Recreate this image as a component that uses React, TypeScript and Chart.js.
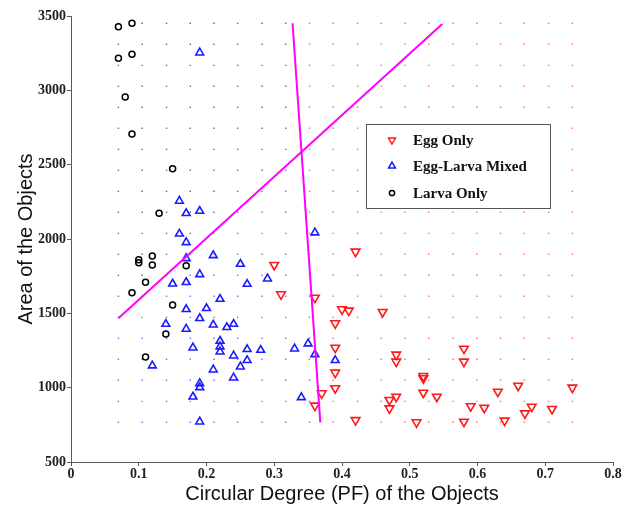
import React, { useEffect, useRef } from 'react';
import { Chart, registerables } from 'chart.js';
import { drawPoint } from 'chart.js/helpers';

Chart.register(...registerables);

// ---- Data ----
const eggX = [0.30, 0.31, 0.36, 0.40, 0.41, 0.46, 0.39, 0.42, 0.39, 0.39, 0.39, 0.37, 0.36, 0.48, 0.48, 0.58, 0.58, 0.52, 0.52, 0.52, 0.54, 0.47, 0.48, 0.47, 0.63, 0.66, 0.74, 0.59, 0.61, 0.68, 0.71, 0.67, 0.42, 0.51, 0.58, 0.64];
const eggY = [1825, 1628, 1605, 1527, 1518, 1509, 1433, 1915, 1269, 1101, 996, 962, 879, 1222, 1175, 1262, 1175, 1078, 1063, 966, 939, 917, 939, 861, 973, 1013, 1000, 875, 865, 872, 857, 827, 782, 767, 771, 778];

const mixedX = [0.19, 0.16, 0.17, 0.19, 0.16, 0.17, 0.36, 0.21, 0.17, 0.25, 0.19, 0.15, 0.17, 0.26, 0.29, 0.22, 0.20, 0.17, 0.14, 0.19, 0.17, 0.21, 0.23, 0.24, 0.18, 0.22, 0.22, 0.22, 0.26, 0.28, 0.33, 0.35, 0.36, 0.24, 0.26, 0.25, 0.12, 0.21, 0.24, 0.19, 0.19, 0.18, 0.34, 0.19, 0.39];
const mixedY = [3253, 2256, 2173, 2188, 2035, 1977, 2043, 1890, 1870, 1832, 1762, 1699, 1709, 1697, 1733, 1596, 1534, 1527, 1428, 1467, 1395, 1423, 1406, 1428, 1269, 1314, 1276, 1242, 1258, 1253, 1262, 1296, 1224, 1215, 1184, 1141, 1148, 1121, 1067, 1029, 1002, 939, 935, 771, 1184];

const larvaX = [0.07, 0.09, 0.07, 0.09, 0.08, 0.09, 0.15, 0.13, 0.10, 0.10, 0.12, 0.12, 0.17, 0.09, 0.11, 0.15, 0.14, 0.11];
const larvaY = [3428, 3451, 3215, 3242, 2955, 2706, 2473, 2173, 1860, 1840, 1885, 1825, 1820, 1639, 1709, 1556, 1361, 1206];

// decision boundaries
const boundary1X = [0.07, 0.548];
const boundary1Y = [1467, 3446];
const boundary2X = [0.327, 0.368];
const boundary2Y = [3451, 767];

// classification mesh (L = larva, M = mixed, E = egg), rows bottom -> top
const gridX = [0.070, 0.105, 0.141, 0.176, 0.211, 0.246, 0.282, 0.317, 0.352, 0.387, 0.423, 0.458, 0.493, 0.528, 0.564, 0.599, 0.634, 0.669, 0.705, 0.740];
const gridY = [767, 908, 1050, 1191, 1332, 1473, 1615, 1756, 1897, 2038, 2180, 2321, 2462, 2603, 2745, 2886, 3027, 3168, 3310, 3451];
const gridClass = [
  'MMMMMMMMMEEEEEEEEEEE',
  'MMMMMMMMMEEEEEEEEEEE',
  'MMMMMMMMMEEEEEEEEEEE',
  'MMMMMMMMMEEEEEEEEEEE',
  'MMMMMMMMMEEEEEEEEEEE',
  'LMMMMMMMMEEEEEEEEEEE',
  'LLMMMMMMMEEEEEEEEEEE',
  'LLMMMMMMMEEEEEEEEEEE',
  'LLLMMMMMEEEEEEEEEEEE',
  'LLLLMMMMEEEEEEEEEEEE',
  'LLLLLMMMEEEEEEEEEEEE',
  'LLLLLLMMEEEEEEEEEEEE',
  'LLLLLLLMEEEEEEEEEEEE',
  'LLLLLLLLEEEEEEEEEEEE',
  'LLLLLLLLEEEEEEEEEEEE',
  'LLLLLLLLEEEEEEEEEEEE',
  'LLLLLLLLEEEEEEEEEEEE',
  'LLLLLLLLEEEEEEEEEEEE',
  'LLLLLLLLEEEEEEEEEEEE',
  'LLLLLLLLEEEEEEEEEEEE',
];

const xTickValues = [0, 0.1, 0.2, 0.3, 0.4, 0.5, 0.6, 0.7, 0.8];
const xTickLabels = ['0', '0.1', '0.2', '0.3', '0.4', '0.5', '0.6', '0.7', '0.8'];
const yTickValues = [500, 1000, 1500, 2000, 2500, 3000, 3500];
const yTickLabels = ['500', '1000', '1500', '2000', '2500', '3000', '3500'];

const legendLabels = ['Egg Only', 'Egg-Larva Mixed', 'Larva Only'];
const xTitle = 'Circular Degree (PF) of the Objects';
const yTitle = 'Area of the Objects';

// ---- Styles ----
const EGG = '#ff1a1a';
const MIXED = '#1a1aff';
const LARVA = '#000000';
const LINE = '#ff00ff';
const gridColors: Record<string, string> = { L: '#6e6e6e', M: '#7070ff', E: '#ff7070' };

const pts = (xs: number[], ys: number[]) => xs.map((x, i) => ({ x, y: ys[i] }));

function meshPoints(cls: string) {
  const out: { x: number; y: number }[] = [];
  gridClass.forEach((row, j) => {
    for (let i = 0; i < row.length; i++) {
      if (row[i] === cls) out.push({ x: gridX[i], y: gridY[j] });
    }
  });
  return out;
}

const legendPlugin = {
  id: 'boxLegend',
  afterDraw(chart: any) {
    const ctx = chart.ctx as CanvasRenderingContext2D;
    const x0 = 366.5, y0 = 124.5, w = 184, h = 84;
    ctx.save();
    ctx.fillStyle = '#ffffff';
    ctx.fillRect(x0, y0, w, h);
    ctx.strokeStyle = '#555555';
    ctx.lineWidth = 1;
    ctx.strokeRect(x0, y0, w, h);
    const items = [
      { color: EGG, style: 'triangle', rotation: 180, radius: 4 },
      { color: MIXED, style: 'triangle', rotation: 0, radius: 4 },
      { color: LARVA, style: 'circle', rotation: 0, radius: 2.6 },
    ];
    const rowY = [140, 166, 193];
    items.forEach((it, i) => {
      ctx.strokeStyle = it.color;
      ctx.fillStyle = 'rgba(0,0,0,0)';
      ctx.lineWidth = 1.5;
      drawPoint(ctx, { pointStyle: it.style as any, rotation: it.rotation, radius: it.radius, borderWidth: 1.5 }, 392, rowY[i]);
      ctx.fillStyle = '#111111';
      ctx.font = 'bold 15px "Liberation Serif"';
      ctx.textBaseline = 'middle';
      ctx.textAlign = 'left';
      ctx.fillText(legendLabels[i], 413, rowY[i] + 1);
    });
    ctx.restore();
  },
};

export default function App() {
  const ref = useRef<HTMLCanvasElement>(null);
  useEffect(() => {
    document.body.style.margin = '0';
    const canvas = ref.current!;
    const tickFont = { family: '"Liberation Serif", serif', weight: 'bold' as const, size: 14 };
    const titleFont = { family: '"Liberation Sans", Arial, sans-serif', size: 20 };
    const chart = new Chart(canvas, {
      type: 'scatter',
      data: {
        datasets: [
          { label: 'b1', data: pts(boundary1X, boundary1Y), showLine: true, borderColor: LINE, borderWidth: 2, pointRadius: 0, fill: false },
          { label: 'b2', data: pts(boundary2X, boundary2Y), showLine: true, borderColor: LINE, borderWidth: 2, pointRadius: 0, fill: false },
          { label: legendLabels[0], data: pts(eggX, eggY), pointStyle: 'triangle', rotation: 180, pointRadius: 5, borderColor: EGG, backgroundColor: 'rgba(0,0,0,0)', pointBorderWidth: 1.6 } as any,
          { label: legendLabels[1], data: pts(mixedX, mixedY), pointStyle: 'triangle', pointRadius: 4.5, borderColor: MIXED, backgroundColor: 'rgba(0,0,0,0)', pointBorderWidth: 1.6 },
          { label: legendLabels[2], data: pts(larvaX, larvaY), pointStyle: 'circle', pointRadius: 3, borderColor: LARVA, backgroundColor: 'rgba(0,0,0,0)', pointBorderWidth: 1.5 },
          { label: 'gridE', data: meshPoints('E'), pointStyle: 'rect', pointRadius: 1, borderWidth: 0, pointBorderWidth: 0, backgroundColor: gridColors.E },
          { label: 'gridM', data: meshPoints('M'), pointStyle: 'rect', pointRadius: 1, borderWidth: 0, pointBorderWidth: 0, backgroundColor: gridColors.M },
          { label: 'gridL', data: meshPoints('L'), pointStyle: 'rect', pointRadius: 1, borderWidth: 0, pointBorderWidth: 0, backgroundColor: gridColors.L },
        ],
      },
      options: {
        responsive: false,
        animation: false,
        devicePixelRatio: 1,
        events: [],
        layout: { padding: { top: 16, right: 16, left: 0, bottom: 0 } },
        plugins: { legend: { display: false }, tooltip: { enabled: false } },
        scales: {
          x: {
            type: 'linear',
            min: 0,
            max: 0.8,
            afterBuildTicks: (s: any) => { s.ticks = xTickValues.map((v) => ({ value: v })); },
            afterFit: (s: any) => { s.height = 45; },
            ticks: { font: tickFont, color: '#222', padding: 0, maxRotation: 0, autoSkip: false, callback: (_v: any, i: number) => xTickLabels[i] },
            grid: { drawOnChartArea: false, drawTicks: true, tickLength: 4, color: '#5a5a5a' },
            border: { display: true, color: '#5a5a5a', width: 1 },
            title: { display: true, text: xTitle, font: titleFont, color: '#111', padding: { top: 0, bottom: 1 } },
          },
          y: {
            type: 'linear',
            min: 500,
            max: 3500,
            afterBuildTicks: (s: any) => { s.ticks = yTickValues.map((v) => ({ value: v })); },
            afterFit: (s: any) => { s.width = 71; },
            ticks: { font: tickFont, color: '#222', padding: 1, autoSkip: false, callback: (_v: any, i: number) => yTickLabels[i] },
            grid: { drawOnChartArea: false, drawTicks: true, tickLength: 4, color: '#5a5a5a' },
            border: { display: true, color: '#5a5a5a', width: 1 },
            title: { display: true, text: yTitle, font: titleFont, color: '#111', padding: { top: 14, bottom: 0 } },
          },
        },
      },
      plugins: [legendPlugin],
    });
    return () => chart.destroy();
  }, []);
  return (
    <div style={{ width: 629, height: 507, background: '#fff' }}>
      <canvas ref={ref} width={629} height={507} style={{ display: 'block' }} />
    </div>
  );
}
